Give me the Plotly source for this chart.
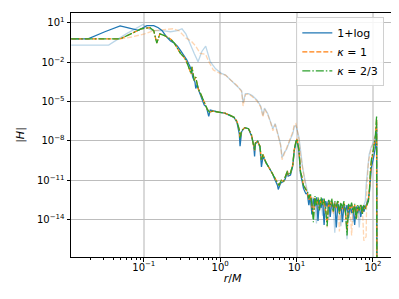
import numpy as np
import plotly.graph_objects as go

# ---------------- data (log10 r/M , log10 |H|) ----------------
# main curve, kappa = 2/3
logr_k23 = [-1.95, -1.73, -1.31, -1.03, -0.92, -0.87, -0.83, -0.79, -0.72, -0.65,
            -0.60, -0.56, -0.52, -0.48, -0.44, -0.41, -0.38, -0.37, -0.34, -0.32,
            -0.29, -0.25, -0.22, -0.20, -0.17, -0.14, -0.10, -0.02, 0.06, 0.13,
            0.18, 0.22, 0.25, 0.26, 0.28, 0.32, 0.37, 0.41, 0.44, 0.45,
            0.46, 0.49, 0.52, 0.54, 0.56, 0.60, 0.64, 0.68, 0.72, 0.75,
            0.77, 0.80, 0.83, 0.85, 0.88, 0.89, 0.92, 0.95, 0.97, 0.99,
            1.00, 1.01, 1.03, 1.04, 1.05, 1.07, 1.09, 1.12,
            1.14, 1.16, 1.18, 1.20, 1.22, 1.24, 1.26, 1.28, 1.30, 1.32,
            1.34, 1.36, 1.38, 1.40, 1.42, 1.44, 1.46, 1.48, 1.50, 1.52,
            1.54, 1.56, 1.58, 1.60, 1.62, 1.64, 1.66, 1.68, 1.70, 1.72,
            1.74, 1.76, 1.78, 1.80, 1.82, 1.84, 1.86, 1.88, 1.90,
            1.94, 1.953, 1.966, 1.98, 2.007, 2.02, 2.034, 2.047, 2.052]
logH_k23 = [-0.23, -0.23, -0.23, 0.55, 0.63, 0.40, -0.55, 0.16, 0.00, -0.23,
            -0.55, -0.94, -1.33, -1.57, -1.96, -2.43, -2.90, -2.35, -3.38, -3.14,
            -4.00, -4.48, -4.87, -5.18, -5.58, -5.81, -5.73, -5.81, -5.89, -6.05,
            -6.20, -6.52, -7.15, -7.78, -7.23, -6.99, -7.07, -7.54, -8.25, -8.72,
            -8.17, -8.01, -8.40, -9.43, -9.03, -9.66, -10.05, -10.45, -10.92, -11.23,
            -11.39, -11.00, -11.08, -10.76, -10.29, -10.60, -10.45, -9.82, -8.64, -8.09,
            -7.85, -8.01, -8.64, -9.43, -10.29, -10.76, -11.39, -11.70,
            -11.8, -12.4, -12.0, -12.8, -14.2, -12.2, -12.9, -12.3, -13.3, -12.3,
            -12.9, -12.4, -13.1, -14.5, -12.5, -12.9, -12.4, -13.4, -12.6, -13.0,
            -12.5, -13.6, -12.7, -13.1, -12.6, -13.4, -15.2, -12.8, -13.2, -12.7,
            -13.5, -12.8, -14.0, -12.9, -13.3, -12.8, -13.6, -12.9, -13.2,
            -12.6, -11.8, -10.2, -9.4, -8.6, -8.2, -7.5, -6.1, -20.0]

# main curve, kappa = 1 (lies under the kappa = 2/3 curve)
logr_k1 = list(logr_k23)
logH_k1 = [-0.23, -0.23, -0.23, 0.55, 0.63, 0.40, -0.55, 0.16, 0.00, -0.23,
           -0.55, -0.94, -1.33, -1.57, -1.96, -2.43, -2.90, -2.35, -3.38, -3.14,
           -4.00, -4.48, -4.87, -5.18, -5.58, -5.81, -5.73, -5.81, -5.89, -6.05,
           -6.20, -6.52, -7.15, -7.78, -7.23, -6.99, -7.07, -7.54, -8.25, -8.72,
           -8.17, -8.01, -8.40, -9.43, -9.03, -9.66, -10.05, -10.45, -10.92, -11.23,
           -11.39, -11.00, -11.08, -10.76, -10.29, -10.60, -10.45, -9.82, -8.64, -8.09,
           -7.85, -8.01, -8.64, -9.43, -10.29, -10.76, -11.39, -11.70,
           -11.9, -12.5, -12.1, -12.9, -13.8, -12.3, -12.9, -12.4, -13.2, -12.4,
           -12.9, -12.5, -13.2, -14.2, -12.6, -13.0, -12.5, -13.4, -12.7, -13.1,
           -12.6, -13.5, -12.8, -13.2, -12.7, -13.5, -14.8, -12.9, -13.2, -12.8,
           -13.5, -12.9, -13.8, -13.0, -13.3, -12.9, -13.5, -13.0, -13.2,
           -12.5, -11.7, -10.3, -9.5, -8.7, -8.3, -7.6, -6.3, -20.0]

# main curve, 1+log
logr_log = [-1.95, -1.73, -1.51, -1.31, -1.19, -1.07, -0.96, -0.87, -0.81, -0.76,
            -0.70, -0.65, -0.60, -0.56, -0.52, -0.48, -0.44, -0.40, -0.37, -0.36,
            -0.33, -0.32, -0.30, -0.28, -0.24, -0.21, -0.18, -0.15, -0.13, -0.09,
            -0.02, 0.06, 0.13, 0.18, 0.22, 0.25, 0.26, 0.28, 0.32, 0.37,
            0.41, 0.44, 0.45, 0.46, 0.49, 0.52, 0.54, 0.56, 0.60, 0.64,
            0.68, 0.72, 0.75, 0.76, 0.79, 0.83, 0.85, 0.88, 0.89, 0.92,
            0.95, 0.97, 0.99, 1.00, 1.01, 1.03, 1.04, 1.05, 1.07, 1.09, 1.12,
            1.14, 1.16, 1.18, 1.20, 1.22, 1.24, 1.26, 1.28, 1.30, 1.32,
            1.34, 1.36, 1.38, 1.40, 1.42, 1.44, 1.46, 1.48, 1.50, 1.52,
            1.54, 1.56, 1.58, 1.60, 1.62, 1.64, 1.66, 1.68, 1.70, 1.72,
            1.74, 1.76, 1.78, 1.80, 1.82, 1.84, 1.86, 1.88, 1.90,
            1.94, 1.953, 1.966, 1.98, 2.007, 2.02, 2.034, 2.047, 2.052]
logH_log = [-0.23, -0.23, 0.32, 0.76, 0.59, 0.43, 0.79, 0.79, 0.63, 0.40,
            -0.08, -0.39, -0.55, -0.78, -1.10, -1.41, -1.80, -2.28, -2.75, -3.14,
            -3.53, -4.00, -3.69, -4.16, -4.79, -5.26, -5.42, -6.13, -5.65, -5.73,
            -5.81, -5.89, -6.05, -6.20, -6.60, -7.46, -8.40, -7.30, -6.99, -7.07,
            -7.62, -8.40, -9.19, -8.25, -8.01, -8.48, -9.98, -9.19, -9.66, -10.05,
            -10.45, -11.00, -11.39, -11.70, -11.23, -11.08, -10.92, -10.37, -10.68, -10.60,
            -9.90, -8.72, -8.17, -7.93, -8.09, -8.80, -9.58, -10.45, -11.00, -11.62, -12.02,
            -12.0, -12.9, -12.2, -13.6, -12.4, -13.0, -12.3, -14.1, -12.5, -13.1,
            -12.4, -14.4, -12.6, -13.0, -12.5, -13.8, -12.6, -13.2, -12.7, -14.6,
            -12.8, -13.3, -12.8, -14.2, -12.9, -13.4, -12.9, -13.9, -12.9, -13.5,
            -13.0, -14.4, -13.0, -13.5, -13.0, -13.8, -13.0, -13.4, -13.1,
            -12.4, -11.9, -10.8, -10.0, -9.3, -8.9, -8.4, -7.0, -20.0]

# faded (pale) 1+log curve
logr_log_pale = [-1.95, -1.46, -1.23, -1.01, -0.96, -0.89, -0.76, -0.65, -0.56, -0.50,
                 -0.45, -0.40, -0.34, -0.29, -0.24, -0.19, -0.15, -0.13, -0.06, 0.01,
                 0.07, 0.14, 0.22, 0.28, 0.30, 0.33, 0.37, 0.42, 0.48, 0.53,
                 0.56, 0.58, 0.62, 0.66, 0.69, 0.72, 0.75, 0.79, 0.81, 0.84,
                 0.87, 0.89, 0.92, 0.95, 0.97, 0.99, 1.00, 1.01, 1.03, 1.05,
                 1.08, 1.11, 1.13,
                 1.16, 1.18, 1.20, 1.22, 1.24, 1.26, 1.28, 1.30, 1.32, 1.34,
                 1.36, 1.38, 1.40, 1.42, 1.44, 1.46, 1.48, 1.50, 1.52, 1.54,
                 1.56, 1.58, 1.60, 1.62, 1.64, 1.66, 1.68, 1.70, 1.72, 1.74,
                 1.76, 1.78, 1.80, 1.82, 1.84, 1.86, 1.88,
                 1.90, 1.91, 1.93, 1.95, 1.98, 2.01, 2.03, 2.05, 2.052]
logH_log_pale = [-0.70, -0.70, 0.16, 0.87, 0.63, 0.40, 0.40, 0.32, 0.40, 0.55,
                 0.16, -0.55, -1.33, -1.96, -1.18, -0.78, -1.57, -1.96, -2.51, -2.83,
                 -2.98, -3.38, -3.77, -4.16, -5.10, -4.40, -4.40, -4.55, -4.87, -5.34,
                 -6.05, -5.50, -5.89, -6.52, -7.07, -6.68, -7.46, -8.25, -9.27, -8.88,
                 -8.64, -8.25, -7.85, -7.46, -6.91, -6.83, -6.99, -7.23, -7.70, -8.80,
                 -10.05, -11.00, -11.62,
                 -12.3, -12.9, -12.3, -13.3, -12.4, -14.3, -12.5, -13.0, -12.5, -13.7,
                 -12.6, -13.1, -12.6, -14.0, -12.7, -13.2, -12.7, -15.0, -12.8, -13.3,
                 -12.8, -14.5, -12.9, -13.3, -12.9, -15.5, -13.0, -13.4, -13.0, -14.2,
                 -13.0, -13.5, -13.0, -14.6, -13.0, -13.3, -12.9,
                 -12.57, -11.39, -10.21, -9.03, -8.40, -8.09, -7.46, -6.68, -20.0]

# faded (pale) kappa = 1 curve
logr_k1_pale = [-1.95, -1.31, -1.16, -0.99, -0.87, -0.76, -0.62, -0.54, -0.45, -0.38,
                -0.32, -0.26, -0.19, -0.15, -0.09, 0.01, 0.07, 0.14, 0.22, 0.28,
                0.30, 0.33, 0.37, 0.42, 0.48, 0.53, 0.56, 0.58, 0.62, 0.66,
                0.69, 0.72, 0.75, 0.79, 0.81, 0.84, 0.87, 0.89, 0.92, 0.95,
                0.97, 0.99, 1.00, 1.01, 1.03, 1.05, 1.08, 1.11, 1.13,
                1.16, 1.18, 1.20, 1.22, 1.24, 1.26, 1.28, 1.30, 1.32, 1.34,
                1.36, 1.38, 1.40, 1.42, 1.44, 1.46, 1.48, 1.50, 1.52, 1.54,
                1.56, 1.58, 1.60, 1.62, 1.64, 1.66, 1.68, 1.70, 1.72, 1.74,
                1.76, 1.78, 1.80, 1.82, 1.84, 1.86, 1.88,
                1.91, 1.92, 1.94, 1.96, 1.98, 2.01, 2.03, 2.05, 2.052]
logH_k1_pale = [-0.23, -0.23, -0.08, 0.16, 0.40, 0.47, 0.55, 0.40, -0.15, -0.39,
                -0.78, -1.33, -1.41, -1.96, -2.59, -2.90, -2.98, -3.38, -3.77, -4.24,
                -5.34, -4.48, -4.40, -4.63, -4.95, -5.42, -6.20, -5.58, -5.97, -6.60,
                -7.23, -6.75, -7.54, -8.33, -9.43, -8.95, -8.56, -8.17, -7.78, -7.30,
                -6.75, -6.68, -6.91, -7.30, -7.85, -9.03, -10.21, -11.15, -11.78,
                -12.5, -12.1, -13.6, -12.3, -12.9, -12.4, -14.0, -12.4, -13.0, -12.5,
                -13.4, -12.6, -14.6, -12.6, -13.2, -12.7, -13.6, -12.8, -13.2, -12.7,
                -14.9, -12.8, -13.3, -12.8, -13.8, -12.9, -13.3, -12.9, -15.2, -13.0,
                -13.4, -12.9, -13.9, -13.0, -13.3, -12.9, -15.6,
                -15.3, -11.5, -9.6, -8.9, -8.5, -8.2, -7.6, -6.5, -20.0]

x_tickvals = [0.1, 1, 10, 100]
x_ticktext = ["10<sup>−1</sup>", "10<sup>0</sup>", "10<sup>1</sup>", "10<sup>2</sup>"]
y_tickvals = [1e-14, 1e-11, 1e-8, 1e-5, 1e-2, 1e1]
y_ticktext = ["10<sup>−14</sup>", "10<sup>−11</sup>", "10<sup>−8</sup>",
              "10<sup>−5</sup>", "10<sup>−2</sup>", "10<sup>1</sup>"]
labels = ["1+log", "<i>κ</i> = 1", "<i>κ</i> = 2/3"]

BLUE, ORANGE, GREEN = "#1f77b4", "#ff7f0e", "#2ca02c"


def pw(a):
    return np.power(10.0, np.asarray(a, dtype=float))


fig = go.Figure()
fig.add_trace(go.Scatter(x=pw(logr_log_pale), y=pw(logH_log_pale), mode="lines",
                         line=dict(color="rgba(31,119,180,0.3)", width=1.3),
                         showlegend=False, hoverinfo="skip"))
fig.add_trace(go.Scatter(x=pw(logr_k1_pale), y=pw(logH_k1_pale), mode="lines",
                         line=dict(color="rgba(255,127,14,0.32)", width=1.3, dash="5px,2px"),
                         showlegend=False, hoverinfo="skip"))
fig.add_trace(go.Scatter(x=pw(logr_log), y=pw(logH_log), mode="lines", name=labels[0],
                         line=dict(color=BLUE, width=1.3)))
fig.add_trace(go.Scatter(x=pw(logr_k1), y=pw(logH_k1), mode="lines", name=labels[1],
                         line=dict(color=ORANGE, width=1.3, dash="5px,2px")))
fig.add_trace(go.Scatter(x=pw(logr_k23), y=pw(logH_k23), mode="lines", name=labels[2],
                         line=dict(color=GREEN, width=1.3, dash="8px,2px,1.5px,2px")))

minor_x = [m * 10.0 ** e for e in range(-2, 3) for m in range(2, 10)]

# the page body adds an 8 px margin, so the figure is 8 px smaller and margins shifted
fig.update_layout(
    width=391, height=291,
    margin=dict(l=63, r=5, t=5, b=42),
    paper_bgcolor="white", plot_bgcolor="white",
    font=dict(family="DejaVu Sans", size=10, color="black"),
    legend=dict(x=0.97, y=0.982, xanchor="right", yanchor="top",
                bgcolor="rgba(255,255,255,0.85)", bordercolor="#d0d0d0", borderwidth=1,
                font=dict(size=11), itemwidth=30, tracegroupgap=0),
)
fig.update_xaxes(type="log", range=[-1.953, 2.275],
                 tickmode="array", tickvals=x_tickvals, ticktext=x_ticktext,
                 ticks="outside", ticklen=3.5, tickwidth=1, tickcolor="black",
                 ticklabelstandoff=-3,
                 showline=True, linecolor="black", linewidth=1, mirror=True,
                 showgrid=True, gridcolor="#d9d9d9", gridwidth=1.6, zeroline=False,
                 minor=dict(tickmode="array", tickvals=minor_x, ticks="outside",
                            ticklen=2, tickwidth=0.8, tickcolor="black", showgrid=False),
                 title=dict(text="<i>r</i>/<i>M</i>", font=dict(size=11), standoff=2))
fig.update_yaxes(type="log", range=[-16.85, 1.75],
                 tickmode="array", tickvals=y_tickvals, ticktext=y_ticktext,
                 ticks="outside", ticklen=3.5, tickwidth=1, tickcolor="black",
                 showline=True, linecolor="black", linewidth=1, mirror=True,
                 showgrid=True, gridcolor="#bdbdbd", gridwidth=1, zeroline=False,
                 title=dict(text="|<i>H</i>|", font=dict(size=11), standoff=10))

fig.write_html("out.html")
